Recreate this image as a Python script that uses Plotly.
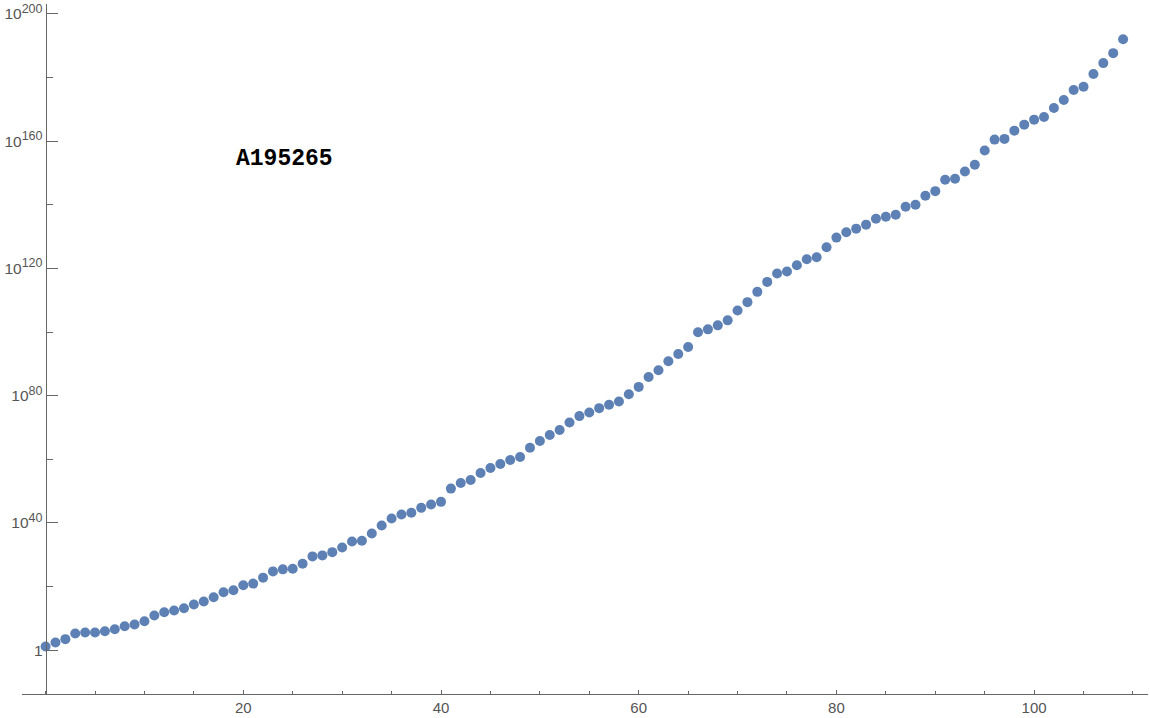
import plotly.graph_objects as go

# index of each term
n_index = list(range(110))

# log10 of each term
log10_values = [
    1.16, 2.41, 3.45, 5.24, 5.55, 5.55, 5.96, 6.58, 7.52, 8.06,
    9.09, 10.88, 11.91, 12.45, 13.17, 14.33, 15.27, 16.61, 18.18, 18.81,
    20.38, 20.91, 22.79, 24.76, 25.39, 25.61, 27.18, 29.47, 29.78, 30.81,
    32.29, 34.17, 34.39, 36.68, 39.18, 41.38, 42.63, 43.17, 44.73, 45.77,
    46.61, 50.78, 52.57, 53.51, 55.71, 57.27, 58.53, 59.78, 60.72, 63.64,
    65.74, 67.62, 69.18, 71.57, 73.57, 74.70, 76.08, 77.12, 78.15, 80.47,
    82.76, 85.89, 87.99, 90.82, 93.10, 95.30, 99.91, 100.85, 102.10, 103.67,
    106.80, 109.40, 112.63, 115.77, 118.40, 119.03, 121.00, 122.88, 123.51, 126.65,
    129.69, 131.35, 132.51, 133.76, 135.64, 136.27, 136.90, 139.40, 140.03, 142.85,
    144.29, 147.87, 148.18, 150.47, 152.57, 157.05, 160.50, 160.72, 163.32, 165.20,
    166.77, 167.62, 170.44, 172.95, 176.08, 177.12, 181.10, 184.55, 187.68, 192.07,
]

x_tick_vals = [20, 40, 60, 80, 100]
x_minor_vals = [0, 5, 10, 15, 25, 30, 35, 45, 50, 55, 65, 70, 75, 85, 90, 95, 105, 110]
y_tick_exps = [0, 40, 80, 120, 160, 200]
y_minor_exps = [20, 60, 100, 140, 180]

title_text = "A195265"

y_values = [10.0 ** v for v in log10_values]


def power_label(e):
    if e == 0:
        return "1"
    return "10<sup><span style='font-size:12.5px'>%d</span></sup>" % e


y_tick_text = [power_label(e) for e in y_tick_exps]

AXIS_COLOR = "#666666"
LABEL_COLOR = "#555555"
POINT_COLOR = "#5E81B5"

fig = go.Figure()
fig.add_trace(go.Scatter(
    x=n_index, y=y_values, mode="markers",
    marker=dict(size=10, color=POINT_COLOR, line=dict(width=0)),
    cliponaxis=False, hoverinfo="x+y",
))

fig.update_layout(
    width=1150, height=718,
    margin=dict(l=22, r=2, t=3, b=23, pad=0),
    paper_bgcolor="white", plot_bgcolor="white",
    showlegend=False,
    font=dict(family="Liberation Sans, Arial, sans-serif", size=15, color=LABEL_COLOR),
    xaxis=dict(
        range=[-2.387, 111.52],
        showgrid=False, zeroline=False,
        showline=True, linecolor=AXIS_COLOR, linewidth=1,
        ticks="inside", ticklen=4.5, tickwidth=1, tickcolor=AXIS_COLOR,
        tickmode="array", tickvals=x_tick_vals,
        ticktext=[str(v) for v in x_tick_vals],
        tickfont=dict(size=15, color=LABEL_COLOR),
        minor=dict(tickmode="array", tickvals=x_minor_vals, ticks="inside",
                   ticklen=3, tickwidth=1, tickcolor=AXIS_COLOR, showgrid=False),
    ),
    yaxis=dict(
        type="log",
        range=[-13.79, 203.13],
        anchor="free", position=(45.6 - 22) / 1126, side="left",
        showgrid=False, zeroline=False,
        showline=True, linecolor=AXIS_COLOR, linewidth=1,
        ticks="inside", ticklen=11, tickwidth=1, tickcolor=AXIS_COLOR,
        tickmode="array", tickvals=[10.0 ** e for e in y_tick_exps],
        ticktext=y_tick_text,
        tickfont=dict(size=15.5, color=LABEL_COLOR),
        minor=dict(tickmode="array", tickvals=[10.0 ** e for e in y_minor_exps],
                   ticks="inside", ticklen=6.5, tickwidth=1, tickcolor=AXIS_COLOR,
                   showgrid=False),
    ),
    annotations=[dict(
        text="<b>" + title_text + "</b>",
        xref="paper", yref="paper",
        x=(284.5 - 22) / 1126, y=(695 - 158.8) / 692,
        xanchor="center", yanchor="middle", showarrow=False,
        font=dict(family="Liberation Mono, Courier New, monospace", size=23, color="black"),
    )],
)

fig.write_html(
    "out.html",
    config={"displayModeBar": False},
    post_script="document.body.style.margin='0';document.body.style.overflow='hidden';",
)
